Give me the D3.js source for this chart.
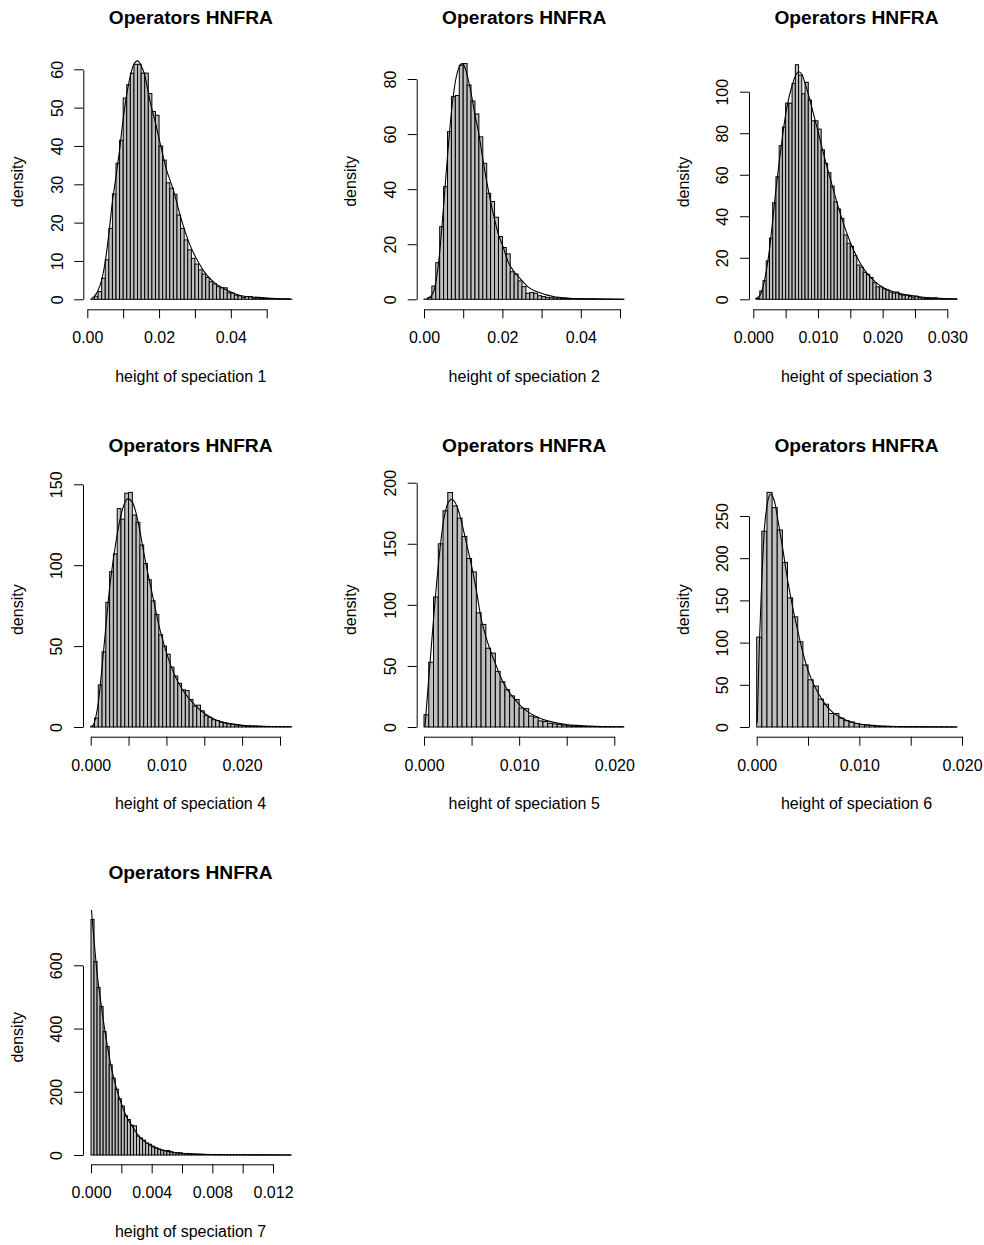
<!DOCTYPE html>
<html><head><meta charset="utf-8">
<script src="https://cdn.jsdelivr.net/npm/d3@7"></script>
<style>
body{margin:0;background:#fff}
svg{display:block}
text{font-family:"Liberation Sans",Arial,Helvetica,sans-serif;fill:#000}
</style>
</head><body>
<svg id="c" width="984" height="1245"></svg>
<script>
// ---------- data ----------
const titleText = "Operators HNFRA";
const yLabelText = "density";
const xLabels = ["height of speciation 1","height of speciation 2","height of speciation 3",
  "height of speciation 4","height of speciation 5","height of speciation 6","height of speciation 7"];
const binWidths = [0.001, 0.001, 0.0005, 0.0005, 0.0005, 0.0005, 0.0002];

const hist1 = [0,0.1,0.8,2,5.5,10.3,18.5,27.5,35.5,41.5,52.5,56,59,61.3,61.3,59,59,53.7,49,48,40,36.3,30.4,29,27.4,22,18.5,15.5,12.9,10.7,9.2,7.7,6.6,5.7,4.6,4,3.3,3,3,1.7,1.6,1.1,0.9,0.5,0.7,0.7,0.35,0.35,0.3,0.25,0.2,0.15,0.12,0.1,0.08,0.05,0.04];
const hist2 = [0.1,0.7,4.8,13.3,26.4,40.9,60.9,73.6,74,85,85.6,77.8,72,67.3,59,49.4,38.5,35.5,29.8,22.8,18.8,16.5,10,9.2,6.7,4.6,2.2,2.5,2.2,1.3,1,0.7,0.6,0.5,0.5,0.4,0.35,0.3,0.25,0.2,0.15,0.12,0.1,0.1,0.08,0.06,0.05,0.04,0.03,0.02,0.02];
const hist3 = [0,0.5,4,9,18.5,29.5,46.5,59,74,83,94.5,94.5,104,113,108,99,104.5,96,86,86,82,72,65.5,61,54.5,47,43.5,39,31,27,25.5,21,16.5,15.5,13,12,10.5,8,6,6,5,4.5,3.5,3,3.5,2.2,2,2,1.3,1,1.5,0.8,0.6,0.5,0.5,0.5,0.7,0.3,0.3,0.2,0.2,0.1,0.1];
const hist4 = [0.5,5.5,26,46.5,77,96,107,135,128.5,144.5,145,131,126.5,112.5,101,91,78,69.5,57,50,45,37,31.5,27,23,22.5,17,13,13.5,10,7,6,4.5,4,3,2.5,2,1.6,1.2,1,0.8,0.7,0.5,0.5,0.4,0.3,0.3,0.2,0.2,0.3,0.1,0.1,0.1];
const hist5 = [10,53,106.5,150,177,192,181,171,156,138,127,93.5,84,64.5,60.5,45.5,37,30.5,25.5,22.5,15.5,15,9,8,5,4.5,3,2.5,2.2,1.5,1,0.8,0.6,0.5,0.4,0.3,0.25,0.2,0.2,0.15,0.1,0.1];
const hist6 = [106.5,232,278,260,233.5,195,153,130.5,101,73.5,56,48.5,33,27,16,16,10.5,7.5,6,4,3,2.5,2,1.2,1,0.8,0.7,0.5,0.4,0.3,0.3,0.2,0.2,0.15,0.1,0.1,0.1,0.1,0.05];
const hist7 = [745,612,530,470,390,343,285,243,208,178,155,124,112,94,92,60,54,47,38,34,28,23,19,16,14,14,10.5,8,7,7,5,4.5,3.5,3,2.5,2.2,2,1.7,1.5,1.2,1,1,0.9,0.8,0.7,0.6,0.6,0.5,0.5,0.4,0.4,0.35,0.3,0.3,0.3,0.25,0.25,0.2,0.2,0.2,0.15,0.15,0.1,0.1,0.1,0.1];

const curve1 = [[0.0012,0.3],[0.002,0.8],[0.003,2.3],[0.004,5],[0.005,9.8],[0.006,17],[0.007,25.5],[0.008,32],[0.009,39],[0.010,47],[0.011,53.5],[0.012,58.3],[0.013,61.3],[0.014,62.2],[0.015,61],[0.016,58.5],[0.0175,51.6],[0.019,46],[0.0203,40.7],[0.022,34],[0.024,28.5],[0.026,21.5],[0.0286,14.2],[0.031,9.6],[0.0333,6.3],[0.0355,4.3],[0.0379,2.9],[0.040,1.9],[0.0426,1.0],[0.046,0.6],[0.050,0.35],[0.0566,0.1]];
const curve2 = [[0.0008,0.2],[0.002,1.5],[0.003,6],[0.004,17],[0.005,34],[0.006,52],[0.007,68],[0.008,79],[0.009,84.5],[0.0097,85.6],[0.0105,84],[0.011,81.5],[0.012,75],[0.013,67],[0.014,60],[0.015,51],[0.016,42.7],[0.017,35.5],[0.018,29],[0.019,23.5],[0.0202,19],[0.0215,13.5],[0.023,10],[0.0245,7.6],[0.0265,4.5],[0.0287,2.8],[0.031,1.7],[0.033,1],[0.037,0.4],[0.042,0.15],[0.051,0.04]];
const curve3 = [[0.0003,0.2],[0.001,1.8],[0.0015,6],[0.002,13.5],[0.0025,24],[0.003,38],[0.0035,53],[0.004,66],[0.0045,78],[0.005,89],[0.0055,97],[0.006,103],[0.0065,107.5],[0.007,109.6],[0.0075,108.5],[0.008,104],[0.0085,99],[0.009,93],[0.0095,87],[0.010,81],[0.011,68.5],[0.012,57],[0.013,46],[0.014,36],[0.015,27.5],[0.016,20.5],[0.017,15],[0.018,11],[0.019,8],[0.020,5.8],[0.022,3.3],[0.024,2],[0.026,1.1],[0.028,0.6],[0.0315,0.2]];
const curve4 = [[0.0002,0.3],[0.0005,3],[0.001,15],[0.0015,37],[0.002,62],[0.0025,86],[0.003,104],[0.0035,119],[0.004,131],[0.0045,138.5],[0.0049,141],[0.0055,139],[0.006,132],[0.0065,121],[0.007,108],[0.0075,96],[0.008,85],[0.0085,74],[0.009,63],[0.0095,54],[0.010,46],[0.011,33],[0.012,24],[0.013,17.5],[0.014,12.5],[0.015,8.5],[0.016,5.6],[0.017,3.6],[0.018,2.4],[0.020,1.1],[0.022,0.55],[0.024,0.3],[0.0265,0.15]];
const curve5 = [[0.0001,0],[0.0005,40],[0.001,88],[0.0015,132],[0.002,166],[0.0025,183],[0.0029,186.5],[0.0035,180],[0.004,166],[0.0045,149],[0.005,132],[0.0055,112],[0.006,89],[0.0065,74],[0.007,62],[0.0075,52],[0.008,42],[0.0085,34],[0.009,28],[0.0095,23],[0.010,18.5],[0.011,12],[0.012,7.8],[0.013,5],[0.014,3.2],[0.015,2],[0.016,1.3],[0.018,0.55],[0.020,0.25],[0.021,0.15]];
const curve6 = [[0.00005,5],[0.00025,95],[0.0005,175],[0.00075,235],[0.001,262],[0.0012,273],[0.0014,276],[0.0016,272],[0.0018,264],[0.002,250],[0.0025,214],[0.003,175],[0.0035,142],[0.004,114],[0.0045,88],[0.005,67],[0.0055,52],[0.006,40],[0.0065,30],[0.007,22],[0.0075,16.5],[0.008,12.5],[0.009,6.8],[0.010,3.6],[0.011,2],[0.012,1.1],[0.014,0.4],[0.017,0.12],[0.0195,0.05]];
const curve7 = [[0.00003,775],[0.0001,735],[0.0002,680],[0.0004,575],[0.0006,500],[0.0008,430],[0.001,368],[0.0012,312],[0.0014,263],[0.0016,225],[0.0018,191],[0.002,163],[0.0022,137],[0.0024,116],[0.0026,100],[0.0028,85],[0.003,70],[0.0032,57],[0.0034,48],[0.0036,40],[0.0038,34],[0.004,28],[0.0045,18],[0.005,12],[0.0055,8],[0.006,5.5],[0.007,3],[0.008,1.7],[0.009,1],[0.010,0.6],[0.012,0.3],[0.0132,0.15]];

const xTicks1 = [0,0.01,0.02,0.03,0.04,0.05];
const xTickLabels1 = ["0.00","","0.02","","0.04",""];
const xTicks2 = [0,0.01,0.02,0.03,0.04,0.05];
const xTickLabels2 = ["0.00","","0.02","","0.04",""];
const xTicks3 = [0,0.005,0.01,0.015,0.02,0.025,0.03];
const xTickLabels3 = ["0.000","","0.010","","0.020","","0.030"];
const xTicks4 = [0,0.005,0.01,0.015,0.02,0.025];
const xTickLabels4 = ["0.000","","0.010","","0.020",""];
const xTicks5 = [0,0.005,0.01,0.015,0.02];
const xTickLabels5 = ["0.000","","0.010","","0.020"];
const xTicks6 = [0,0.005,0.01,0.015,0.02];
const xTickLabels6 = ["0.000","","0.010","","0.020"];
const xTicks7 = [0,0.002,0.004,0.006,0.008,0.010,0.012];
const xTickLabels7 = ["0.000","","0.004","","0.008","","0.012"];

const yTicks1 = [0,10,20,30,40,50,60];
const yTicks2 = [0,20,40,60,80];
const yTicks3 = [0,20,40,60,80,100];
const yTicks4 = [0,50,100,150];
const yTicks5 = [0,50,100,150,200];
const yTicks6 = [0,50,100,150,200,250];
const yTicks7 = [0,200,400,600];

const panels = [
  {hist:hist1, curve:curve1, bw:binWidths[0], xTicks:xTicks1, xTickLabels:xTickLabels1, yTicks:yTicks1, xLabel:xLabels[0]},
  {hist:hist2, curve:curve2, bw:binWidths[1], xTicks:xTicks2, xTickLabels:xTickLabels2, yTicks:yTicks2, xLabel:xLabels[1]},
  {hist:hist3, curve:curve3, bw:binWidths[2], xTicks:xTicks3, xTickLabels:xTickLabels3, yTicks:yTicks3, xLabel:xLabels[2]},
  {hist:hist4, curve:curve4, bw:binWidths[3], xTicks:xTicks4, xTickLabels:xTickLabels4, yTicks:yTicks4, xLabel:xLabels[3]},
  {hist:hist5, curve:curve5, bw:binWidths[4], xTicks:xTicks5, xTickLabels:xTickLabels5, yTicks:yTicks5, xLabel:xLabels[4]},
  {hist:hist6, curve:curve6, bw:binWidths[5], xTicks:xTicks6, xTickLabels:xTickLabels6, yTicks:yTicks6, xLabel:xLabels[5]},
  {hist:hist7, curve:curve7, bw:binWidths[6], xTicks:xTicks7, xTickLabels:xTickLabels7, yTicks:yTicks7, xLabel:xLabels[6]}
];

// ---------- layout (pixels) ----------
const layout = [
  {ax:83.3,  x0:87.3,  x1:266.7, base:309.3,  y0:299.3, y1:69.3},
  {ax:416.7, x0:424,   x1:620,   base:309.3,  y0:299.3, y1:79},
  {ax:749,   x0:753.3, x1:947.3, base:309.3,  y0:299.3, y1:91.7},
  {ax:83,    x0:90.7,  x1:280,   base:736.7,  y0:727,   y1:484.3},
  {ax:416.7, x0:424,   x1:614.3, base:736.7,  y0:727,   y1:482.7},
  {ax:749,   x0:756.7, x1:962,   base:736.7,  y0:727,   y1:516},
  {ax:83,    x0:91,    x1:273,   base:1164.3, y0:1155,  y1:965.3}
];
const plotW = 215;

const svg = d3.select("#c");

panels.forEach((p, k) => {
  const L = layout[k];
  const x = d3.scaleLinear().domain([0, d3.max(p.xTicks)]).range([L.x0, L.x1]);
  const y = d3.scaleLinear().domain([0, d3.max(p.yTicks)]).range([L.y0, L.y1]);
  const maxBar = d3.max(p.hist);
  const topPx = y(maxBar * 1.04);
  const g = svg.append("g");

  g.append("clipPath").attr("id", "clip" + k)
    .append("rect").attr("x", L.ax).attr("y", topPx)
    .attr("width", plotW).attr("height", L.base - topPx);

  g.append("g").selectAll("rect").data(p.hist).join("rect")
    .attr("x", (d, i) => x(i * p.bw))
    .attr("width", (d, i) => x((i + 1) * p.bw) - x(i * p.bw))
    .attr("y", d => y(d))
    .attr("height", d => y(0) - y(d))
    .attr("fill", "#bebebe")
    .attr("stroke", "#000")
    .attr("stroke-width", 1);

  const line = d3.line().x(d => x(d[0])).y(d => y(d[1])).curve(d3.curveMonotoneX);
  g.append("path").datum(p.curve)
    .attr("d", line)
    .attr("fill", "none")
    .attr("stroke", "#000")
    .attr("stroke-width", 1.1)
    .attr("clip-path", "url(#clip" + k + ")");

  const xa = g.append("g").attr("transform", `translate(0,${L.base})`)
    .call(d3.axisBottom(x).tickValues(p.xTicks)
      .tickFormat((d, i) => p.xTickLabels[i])
      .tickSize(9).tickSizeOuter(0).tickPadding(13.6));
  xa.selectAll("path,line").attr("stroke", "#000").attr("stroke-width", 1);
  xa.selectAll("text").attr("font-size", "16px").attr("fill", "#000")
    .style("font-family", '"Liberation Sans",Arial,Helvetica,sans-serif');
  xa.attr("font-family", null).attr("font-size", null);

  const ya = g.append("g").attr("transform", `translate(${L.ax},0)`)
    .call(d3.axisLeft(y).tickValues(p.yTicks).tickSize(9).tickSizeOuter(0));
  ya.selectAll("path,line").attr("stroke", "#000").attr("stroke-width", 1);
  ya.selectAll("text")
    .attr("x", null).attr("dy", null)
    .attr("text-anchor", "middle")
    .attr("transform", "translate(-20.7,0) rotate(-90)")
    .attr("font-size", "16px").attr("fill", "#000")
    .style("font-family", '"Liberation Sans",Arial,Helvetica,sans-serif');
  ya.attr("font-family", null).attr("font-size", null);

  const cx = L.ax + plotW / 2;
  g.append("text").attr("x", cx).attr("y", L.base - 285)
    .attr("text-anchor", "middle").attr("font-weight", "bold")
    .attr("font-size", "19.2px").text(titleText);
  g.append("text").attr("x", cx).attr("y", L.base + 72.5)
    .attr("text-anchor", "middle").attr("font-size", "16px").text(p.xLabel);
  g.append("text")
    .attr("transform", `translate(${L.ax - 60.5},${y(maxBar / 2)}) rotate(-90)`)
    .attr("text-anchor", "middle").attr("font-size", "16px").text(yLabelText);
});
</script>
</body></html>
